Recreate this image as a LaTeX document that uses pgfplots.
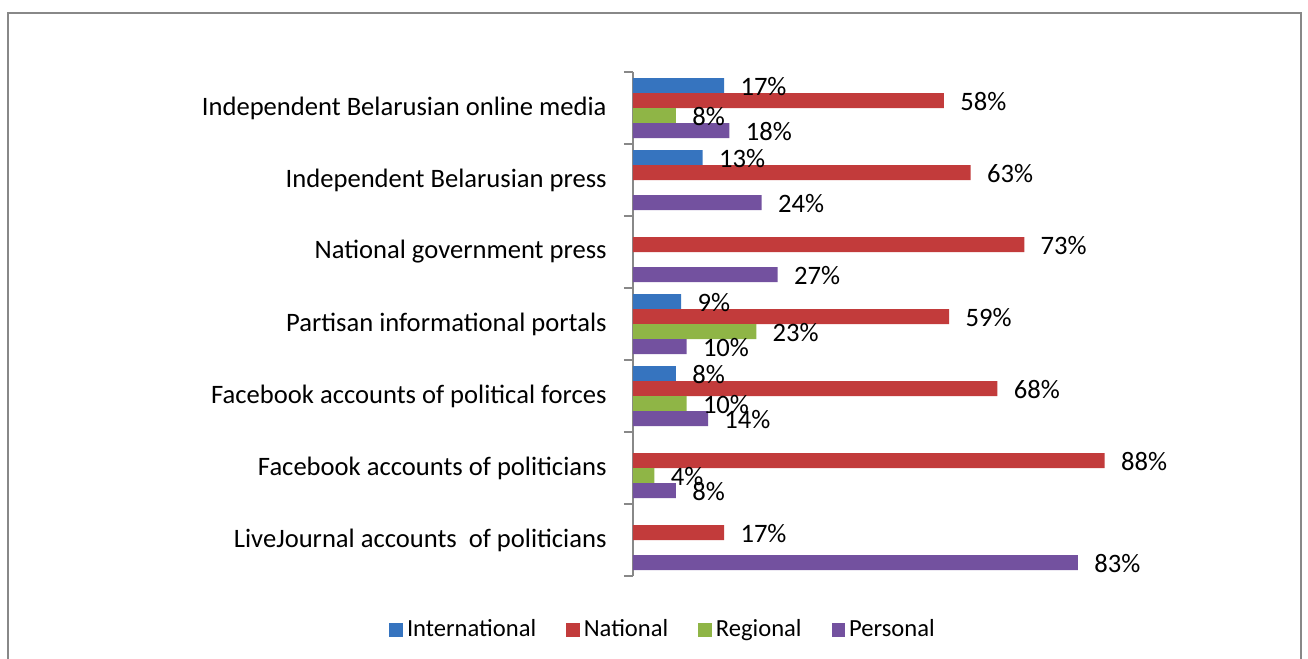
\documentclass[border=0pt]{standalone}
\usepackage{pgfplots}
\pgfplotsset{compat=1.18}
\usepackage{fontspec}
\setmainfont{Carlito}
\definecolor{cblue}{HTML}{3674BF}
\definecolor{cred}{HTML}{C23B3B}
\definecolor{cgreen}{HTML}{8FB546}
\definecolor{cpurple}{HTML}{73519F}
\definecolor{framegray}{HTML}{888888}
\begin{document}
\begin{tikzpicture}
\useasboundingbox (0,0) rectangle (654pt,329.5pt);
\draw[framegray, line width=1pt] (4pt,-10pt) -- (4pt,323pt) -- (650.5pt,323pt) -- (650.5pt,-10pt);
\begin{axis}[
  at={(316.5pt,41.5pt)}, anchor=south west,
  scale only axis, width=268pt, height=252pt,
  xmin=0, xmax=100, ymin=-0.5, ymax=6.5, y dir=reverse,
  xbar, bar width=7.5pt,
  axis x line=none, axis y line*=left,
  y axis line style={draw=framegray, line width=0.8pt},
  ytick={0,...,6},
  yticklabels={Independent Belarusian online media, Independent Belarusian press, National government press, Partisan informational portals, Facebook accounts of political forces, Facebook accounts of politicians, LiveJournal accounts\ \ of politicians},
  major tick length=0pt,
  yticklabel style={font=\fontsize{13.3}{15}\selectfont, inner sep=0pt, xshift=-13pt, anchor=east},
  extra y ticks={-0.5,0.5,1.5,2.5,3.5,4.5,5.5,6.5},
  extra y tick labels={},
  extra y tick style={major tick length=4.5pt, tick align=outside, tick style={draw=framegray, line width=0.8pt}},
  point meta=x,
  /pgf/number format/assume math mode=true,
  nodes near coords={\pgfmathprintnumber{\pgfplotspointmeta}\%},
  every node near coord/.append style={anchor=west, inner sep=0pt, xshift=8pt, yshift=-0.3pt, font=\fontsize{13.3}{15}\selectfont, black},
  legend style={at={(axis description cs:0.058,-0.107)}, anchor=center, draw=none, fill=none,
    legend columns=4, font=\fontsize{12.3}{14}\selectfont,
    /tikz/every even column/.append style={column sep=13pt}},
  legend image code/.code={\fill[#1] (0pt,-3.4pt) rectangle (6.8pt,3.4pt);},
]
\addplot[fill=cblue, draw=none, bar shift=11.25pt] coordinates {(17,0) (13,1) (9,3) (8,4)};
\addplot[fill=cred, draw=none, bar shift=3.75pt] coordinates {(58,0) (63,1) (73,2) (59,3) (68,4) (88,5) (17,6)};
\addplot[fill=cgreen, draw=none, bar shift=-3.75pt] coordinates {(8,0) (23,3) (10,4) (4,5)};
\addplot[fill=cpurple, draw=none, bar shift=-11.25pt] coordinates {(18,0) (24,1) (27,2) (10,3) (14,4) (8,5) (83,6)};
\legend{International, National, Regional, Personal}
\end{axis}
\end{tikzpicture}
\end{document}
